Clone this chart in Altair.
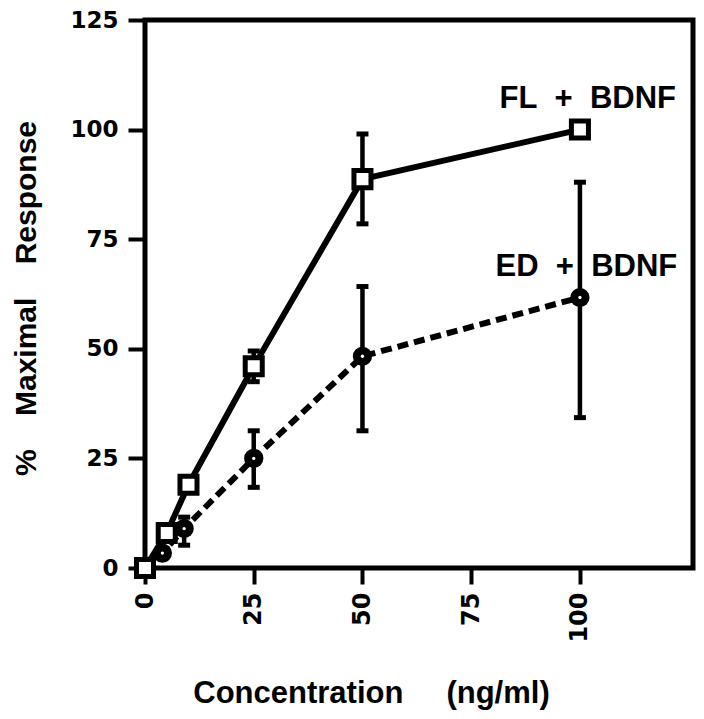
import altair as alt
import pandas as pd

# ---- data ----
fl_conc = [0, 5, 10, 25, 50, 100]
fl_resp = [0, 8, 19, 46, 88.7, 100]
ed_conc = [0, 4, 9, 25, 50, 100]
ed_resp = [0, 3.4, 9, 25, 48.3, 61.7]

fl_err_conc = [25, 50]
fl_err_lo = [42.5, 78.5]
fl_err_hi = [49.5, 99]
ed_err_conc = [9, 25, 50, 100]
ed_err_lo = [5.2, 18.4, 31.3, 34.3]
ed_err_hi = [11.6, 31.3, 64.2, 88]

label_text = ["FL\u00a0\u00a0+\u00a0\u00a0BDNF", "ED\u00a0\u00a0+\u00a0\u00a0BDNF"]
label_x = [101.8, 101.5]
label_y = [105, 66.5]

x_ticks = [0, 25, 50, 75, 100]
y_ticks = [0, 25, 50, 75, 100, 125]

fl = pd.DataFrame({"c": fl_conc, "r": fl_resp})
ed = pd.DataFrame({"c": ed_conc, "r": ed_resp})
err = pd.DataFrame({
    "c": fl_err_conc + ed_err_conc,
    "lo": fl_err_lo + ed_err_lo,
    "hi": fl_err_hi + ed_err_hi,
})
labels = pd.DataFrame({"t": label_text, "x": label_x, "y": label_y})

TITLE_FONT = "Liberation Sans"
TICK_FONT = "DejaVu Sans"

xscale = alt.Scale(domain=[0, 126], nice=False, zero=False)
yscale = alt.Scale(domain=[0, 125], nice=False)

xaxis = alt.Axis(
    values=x_ticks, labelAngle=270, labelFont=TICK_FONT, labelFontSize=24,
    labelFontWeight="bold", labelColor="black", labelPadding=8,
    tickSize=16, tickWidth=4, tickColor="black", domain=False, grid=False,
    title="Concentration\u00a0\u00a0\u00a0\u00a0\u00a0(ng/ml)",
    titleFont=TITLE_FONT, titleFontSize=31, titleFontWeight="bold",
    titleColor="black", titleX=226, titleY=134, titleAlign="center",
    titleBaseline="alphabetic", labelFlush=False,
)
yaxis = alt.Axis(
    values=y_ticks, labelFont=TICK_FONT, labelFontSize=23,
    labelFontWeight="bold", labelColor="black", labelPadding=10,
    tickSize=17, tickWidth=4, tickColor="black", domain=False, grid=False,
    title="%\u00a0\u00a0\u00a0\u00a0Maximal\u00a0\u00a0\u00a0\u00a0Response",
    titleFont=TITLE_FONT, titleFontSize=30, titleFontWeight="bold",
    titleColor="black", titleX=-119, titleY=278, titleAngle=270,
    titleAlign="center", titleBaseline="middle", labelFlush=False,
)

X = alt.X("c:Q", scale=xscale, axis=xaxis)
Y = alt.Y("r:Q", scale=yscale, axis=yaxis)

err_rule = alt.Chart(err).mark_rule(color="black", strokeWidth=4.5).encode(
    x=alt.X("c:Q", scale=xscale), y=alt.Y("lo:Q", scale=yscale), y2="hi:Q"
)
cap_lo = alt.Chart(err).mark_tick(
    color="black", orient="horizontal", size=12, thickness=5, opacity=1
).encode(x=alt.X("c:Q", scale=xscale), y=alt.Y("lo:Q", scale=yscale))
cap_hi = alt.Chart(err).mark_tick(
    color="black", orient="horizontal", size=12, thickness=5, opacity=1
).encode(x=alt.X("c:Q", scale=xscale), y=alt.Y("hi:Q", scale=yscale))

ed_line = alt.Chart(ed).mark_line(
    color="black", strokeWidth=6, strokeDash=[11, 6], strokeCap="butt"
).encode(x=X, y=Y)
ed_pts = alt.Chart(ed).mark_point(
    shape="circle", filled=True, fill="black", size=370, opacity=1
).encode(x=X, y=Y)
ed_dot = alt.Chart(ed).mark_point(
    shape="circle", filled=True, fill="white", size=11, opacity=1
).encode(x=X, y=Y)

fl_line = alt.Chart(fl).mark_line(color="black", strokeWidth=6).encode(x=X, y=Y)
fl_pts = alt.Chart(fl).mark_point(
    shape="square", filled=True, fill="white", stroke="black",
    strokeWidth=5, size=290, opacity=1
).encode(x=X, y=Y)

txt = alt.Chart(labels).mark_text(
    font=TITLE_FONT, fontSize=31, fontWeight="bold", color="black",
    align="center", baseline="alphabetic"
).encode(
    x=alt.X("x:Q", scale=xscale), y=alt.Y("y:Q", scale=yscale), text="t:N"
)

chart = alt.layer(
    err_rule, cap_lo, cap_hi, ed_line, ed_pts, ed_dot, fl_line, fl_pts, txt
).properties(
    width=548, height=548,
    autosize=alt.AutoSizeParams(type="none"),
    padding={"left": 137, "top": 12, "right": 3, "bottom": 142},
    background="white",
).configure_view(
    stroke="black", strokeWidth=5, fill="white"
)

chart.save("out.html", embed_options={"renderer": "svg", "actions": False})
